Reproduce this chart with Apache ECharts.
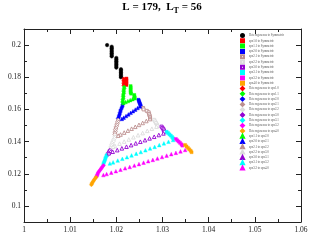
<!DOCTYPE html>
<html><head><meta charset="utf-8">
<script src="https://cdn.jsdelivr.net/npm/echarts@6/dist/echarts.min.js"></script>
<style>html,body{margin:0;padding:0;background:#fff}#c{width:309px;height:240px}</style>
</head><body><div id="c"></div><script>
// ---- tick labels ----
const xTickLabels = ['1','1.01','1.02','1.03','1.04','1.05','1.06'];
const yTickLabels = ['0.1','0.12','0.14','0.16','0.18','0.2'];
const yMajorTicks = [0.1,0.12,0.14,0.16,0.18,0.2];
const yMinorTicks = [0.09,0.11,0.13,0.15,0.17,0.19,0.21];

// ---- series names ----
const toSymNames = ['Heterogeneous to Symmetric','spx1.0 to Symmetric','spx1.1 to Symmetric','spx2.0 to Symmetric','spx2.1 to Symmetric','spx2.2 to Symmetric','spx3.0 to Symmetric','spx3.1 to Symmetric','spx3.2 to Symmetric','spx4.0 to Symmetric'];
const hetNames = ['Heterogeneous to spx1.0','Heterogeneous to spx1.1','Heterogeneous to spx2.0','Heterogeneous to spx2.1','Heterogeneous to spx2.2','Heterogeneous to spx3.0','Heterogeneous to spx3.1','Heterogeneous to spx3.2','Heterogeneous to spx4.0'];
const transNames = ['spx1.1 to spx2.0','spx2.0 to spx2.1','spx2.1 to spx2.2','spx2.2 to spx3.0','spx3.0 to spx3.1','spx3.1 to spx3.2','spx3.2 to spx4.0'];

// ---- data [mu, T] ----
const heteroToSym = [[1.018,0.200],[1.019,0.199],[1.019,0.198],[1.019,0.197],[1.019,0.196],[1.019,0.195],[1.019,0.194],[1.019,0.193],[1.020,0.192],[1.020,0.191],[1.020,0.190],[1.020,0.189],[1.020,0.188],[1.020,0.187],[1.020,0.186],[1.021,0.185],[1.021,0.184],[1.021,0.183],[1.021,0.182],[1.021,0.181],[1.021,0.180]];
const spx10ToSym = [[1.0222,0.1792],[1.0222,0.1782],[1.0222,0.1772],[1.0222,0.1762],[1.0222,0.1752]];
const spx11ToSym = [[1.0231,0.1745],[1.0231,0.1735],[1.0231,0.1725],[1.0231,0.1715],[1.0231,0.1705],[1.0232,0.1698],[1.0239,0.1690],[1.0239,0.1680],[1.0240,0.1672]];
const spx20ToSym = [[1.0248,0.1660],[1.0249,0.1652],[1.0250,0.1644],[1.0251,0.1636],[1.0252,0.1628],[1.0253,0.1620]];
const spx21ToSym = [[1.0258,0.1609],[1.0259,0.1600],[1.0266,0.1591],[1.0270,0.1582],[1.0271,0.1572],[1.0272,0.1562],[1.0273,0.1552],[1.0273,0.1544]];
const spx22ToSym = [[1.0282,0.1535],[1.0284,0.1525],[1.0286,0.1515],[1.0288,0.1505],[1.0289,0.1497]];
const spx30ToSym = [[1.0298,0.1493],[1.0300,0.1485],[1.0302,0.1477],[1.0303,0.1469],[1.0304,0.1461]];
const spx31ToSym = [[1.0309,0.1461],[1.0312,0.1453],[1.0315,0.1445],[1.0318,0.1437],[1.0321,0.1428],[1.0323,0.1420]];
const spx32ToSym = [[1.0329,0.1416],[1.0332,0.1408],[1.0335,0.1400],[1.0338,0.1392],[1.0341,0.1383],[1.0343,0.1375]];
const spx40ToSym = [[1.0349,0.1379],[1.0352,0.1370],[1.0355,0.1361],[1.0358,0.1352],[1.0361,0.1343],[1.0363,0.1334]];

const hetToSpx10 = [[1.0216,0.1790],[1.0216,0.1780],[1.0216,0.1770],[1.0216,0.1760],[1.0216,0.1750]];
const hetToSpx11 = [[1.0217,0.1740],[1.0217,0.1730],[1.0216,0.1720],[1.0216,0.1710],[1.0216,0.1700],[1.0215,0.1690],[1.0215,0.1680],[1.0215,0.1670],[1.0214,0.1660],[1.0214,0.1650],[1.0214,0.1642]];
const hetToSpx20 = [[1.0214,0.1630],[1.0213,0.1620],[1.0212,0.1610],[1.0210,0.1600],[1.0209,0.1590],[1.0208,0.1580],[1.0207,0.1570],[1.0206,0.1560],[1.0205,0.1552],[1.0204,0.1544]];
const hetToSpx21 = [[1.0204,0.1534],[1.0203,0.1524],[1.0202,0.1514],[1.0201,0.1504],[1.0200,0.1494],[1.0199,0.1484],[1.0198,0.1474],[1.0198,0.1464],[1.0197,0.1454],[1.0197,0.1444]];
const hetToSpx22 = [[1.0197,0.1430],[1.0196,0.1420],[1.0194,0.1410],[1.0193,0.1400],[1.0191,0.1390],[1.0190,0.1380],[1.0189,0.1370],[1.0188,0.1360],[1.0186,0.1350]];
const hetToSpx30 = [[1.0186,0.1346],[1.0185,0.1338],[1.0183,0.1331],[1.0182,0.1324],[1.0181,0.1317]];
const hetToSpx31 = [[1.0179,0.1316],[1.0178,0.1308],[1.0177,0.1300],[1.0176,0.1292],[1.0175,0.1284],[1.0174,0.1276],[1.0173,0.1268],[1.0172,0.1260]];
const hetToSpx32 = [[1.0172,0.1252],[1.0170,0.1244],[1.0168,0.1236],[1.0166,0.1228],[1.0164,0.1220],[1.0162,0.1212],[1.0160,0.1204],[1.0159,0.1196],[1.0158,0.1188],[1.0157,0.1182]];
const hetToSpx40 = [[1.0156,0.1178],[1.0154,0.1170],[1.0152,0.1162],[1.0150,0.1154],[1.0148,0.1146],[1.0147,0.1138],[1.0146,0.1131]];

const spx11ToSpx20 = [[1.0240,0.1670],[1.0235,0.1664],[1.0230,0.1658],[1.0225,0.1652],[1.0220,0.1646],[1.0215,0.1640]];
const spx20ToSpx21 = [[1.0251,0.1619],[1.0246,0.1609],[1.0241,0.1599],[1.0236,0.1589],[1.0231,0.1579],[1.0226,0.1569],[1.0221,0.1559],[1.0216,0.1549],[1.0212,0.1541]];
const spx21ToSpx22 = [[1.0273,0.1540],[1.0265,0.1528],[1.0257,0.1516],[1.0249,0.1504],[1.0241,0.1492],[1.0233,0.1480],[1.0225,0.1468],[1.0217,0.1456],[1.0209,0.1444],[1.0204,0.1437]];
const spx22ToSpx30 = [[1.0287,0.1493],[1.0277,0.1480],[1.0267,0.1467],[1.0257,0.1453],[1.0247,0.1440],[1.0237,0.1427],[1.0227,0.1413],[1.0217,0.1400],[1.0207,0.1387],[1.0197,0.1373],[1.0193,0.1368]];
const spx30ToSpx31 = [[1.0302,0.1451],[1.0292,0.1441],[1.0282,0.1430],[1.0272,0.1420],[1.0262,0.1409],[1.0252,0.1399],[1.0242,0.1389],[1.0232,0.1378],[1.0222,0.1368],[1.0212,0.1358],[1.0202,0.1347],[1.0192,0.1337],[1.0184,0.1328]];
const spx31ToSpx32 = [[1.0323,0.1410],[1.0313,0.1399],[1.0303,0.1389],[1.0293,0.1378],[1.0283,0.1367],[1.0273,0.1357],[1.0263,0.1346],[1.0253,0.1335],[1.0243,0.1325],[1.0233,0.1314],[1.0223,0.1303],[1.0213,0.1293],[1.0203,0.1282],[1.0193,0.1271],[1.0186,0.1264]];
const spx32ToSpx40 = [[1.0349,0.1348],[1.0339,0.1339],[1.0329,0.1330],[1.0319,0.1322],[1.0309,0.1313],[1.0299,0.1304],[1.0289,0.1295],[1.0279,0.1286],[1.0269,0.1278],[1.0259,0.1269],[1.0249,0.1260],[1.0239,0.1251],[1.0229,0.1242],[1.0219,0.1234],[1.0209,0.1225],[1.0199,0.1216],[1.0189,0.1207],[1.0179,0.1198],[1.0172,0.1192]];

const toSymData = [heteroToSym,spx10ToSym,spx11ToSym,spx20ToSym,spx21ToSym,spx22ToSym,spx30ToSym,spx31ToSym,spx32ToSym,spx40ToSym];
const hetData = [hetToSpx10,hetToSpx11,hetToSpx20,hetToSpx21,hetToSpx22,hetToSpx30,hetToSpx31,hetToSpx32,hetToSpx40];
const transData = [spx11ToSpx20,spx20ToSpx21,spx21ToSpx22,spx22ToSpx30,spx30ToSpx31,spx31ToSpx32,spx32ToSpx40];

// ---- styles ----
const palette = ['#000000','#ff0000','#00ff00','#0000ff','#bc8f8f','#dcdcdc','#9400d3','#00ffff','#ff00ff','#ffa500'];
const hollowColors = ['#bc8f8f','#dcdcdc','#9400d3'];
const AX = '#222';
const SERIF = 'Liberation Serif, Times New Roman, serif';

function mk(name, data, color, symbol, size) {
  const hollow = hollowColors.indexOf(color) >= 0;
  return {
    type: 'scatter', name, data, symbol, symbolSize: size,
    xAxisIndex: 0, yAxisIndex: 0, silent: true,
    itemStyle: hollow ? {color: '#ffffff', borderColor: color, borderWidth: 0.9, opacity: 1}
                      : {color: color, borderColor: color, borderWidth: 0.4, opacity: 1},
    emphasis: {disabled: true}
  };
}
const series = [];
toSymNames.forEach((n,i) => series.push(mk(n, toSymData[i], palette[i], i === 0 ? 'circle' : 'rect', i === 0 ? 3.6 : 3)));
hetNames.forEach((n,i) => series.push(mk(n, hetData[i], palette[i+1], 'diamond', 4)));
transNames.forEach((n,i) => series.push(mk(n, transData[i], palette[i+2], 'triangle', 3.6)));

const gridBox = {left: 24, right: 8, top: 29, bottom: 18, containLabel: false, outerBoundsMode: 'none'};
const tickStyle = {color: AX, width: 1};
const xBase = {type: 'value', min: 1, max: 1.06, interval: 0.01, splitLine: {show: false},
  axisLine: {show: true, onZero: false, lineStyle: {color: AX, width: 1}},
  axisTick: {show: true, inside: true, length: 5, lineStyle: tickStyle},
  minorTick: {show: true, splitNumber: 2, length: 3, lineStyle: tickStyle}};

const option = {
  animation: false,
  backgroundColor: '#ffffff',
  title: {
    text: '{a|L = 179,  L}{s|T}{a| = 56}',
    left: 162, textAlign: 'center', top: 0, padding: 0,
    textStyle: {rich: {
      a: {fontFamily: SERIF, fontSize: 11, color: '#000'},
      s: {fontFamily: SERIF, fontSize: 8, color: '#000', padding: [7,0,0,0]}
    }}
  },
  legend: {
    orient: 'vertical', left: 240, top: 33, padding: 0,
    itemWidth: 3, itemHeight: 3, itemGap: 0.3,
    selectedMode: false,
    textStyle: {fontFamily: SERIF, fontSize: 3, lineHeight: 3.5, color: '#555', padding: 0},
    data: toSymNames.concat(hetNames, transNames)
  },
  grid: [Object.assign({}, gridBox), Object.assign({}, gridBox), Object.assign({}, gridBox)],
  xAxis: [
    Object.assign({}, xBase, {gridIndex: 0, position: 'bottom',
      axisLabel: {show: true, fontFamily: SERIF, fontSize: 7.5, color: AX, margin: 4,
        formatter: v => xTickLabels[Math.round((v - 1) / 0.01)]},
      name: 'μ', nameLocation: 'middle', nameGap: 9,
      nameTextStyle: {fontFamily: SERIF, fontSize: 9, color: AX}}),
    Object.assign({}, xBase, {gridIndex: 1, position: 'top', axisLabel: {show: false}}),
    {type: 'value', gridIndex: 2, min: 1, max: 1.06, show: false}
  ],
  yAxis: [
    {type: 'value', gridIndex: 0, position: 'left', min: 0.09, max: 0.21, splitLine: {show: false},
      axisLine: {show: true, onZero: false, lineStyle: {color: AX, width: 1}},
      axisTick: {show: true, inside: true, length: 5, lineStyle: tickStyle, customValues: yMajorTicks},
      axisLabel: {show: true, fontFamily: SERIF, fontSize: 7.5, color: AX, margin: 3, customValues: yMajorTicks,
        formatter: v => yTickLabels[Math.round((v - 0.1) / 0.02)]},
      name: 'T', nameLocation: 'middle', nameGap: 18, nameRotate: 90,
      nameTextStyle: {fontFamily: SERIF, fontSize: 8, color: AX}},
    {type: 'value', gridIndex: 1, position: 'right', min: 0.09, max: 0.21, splitLine: {show: false},
      axisLine: {show: true, onZero: false, lineStyle: {color: AX, width: 1}},
      axisTick: {show: true, inside: true, length: 5, lineStyle: tickStyle, customValues: yMajorTicks},
      axisLabel: {show: false}},
    {type: 'value', gridIndex: 2, position: 'left', min: 0.09, max: 0.21, splitLine: {show: false},
      axisLine: {show: false},
      axisTick: {show: true, inside: true, length: 3, lineStyle: tickStyle, customValues: yMinorTicks},
      axisLabel: {show: false}},
    {type: 'value', gridIndex: 2, position: 'right', min: 0.09, max: 0.21, splitLine: {show: false},
      axisLine: {show: false},
      axisTick: {show: true, inside: true, length: 3, lineStyle: tickStyle, customValues: yMinorTicks},
      axisLabel: {show: false}}
  ],
  series: series
};
const chart = echarts.init(document.getElementById('c'), null, {renderer: 'canvas', width: 309, height: 240, devicePixelRatio: 1});
chart.setOption(option);
</script></body></html>
